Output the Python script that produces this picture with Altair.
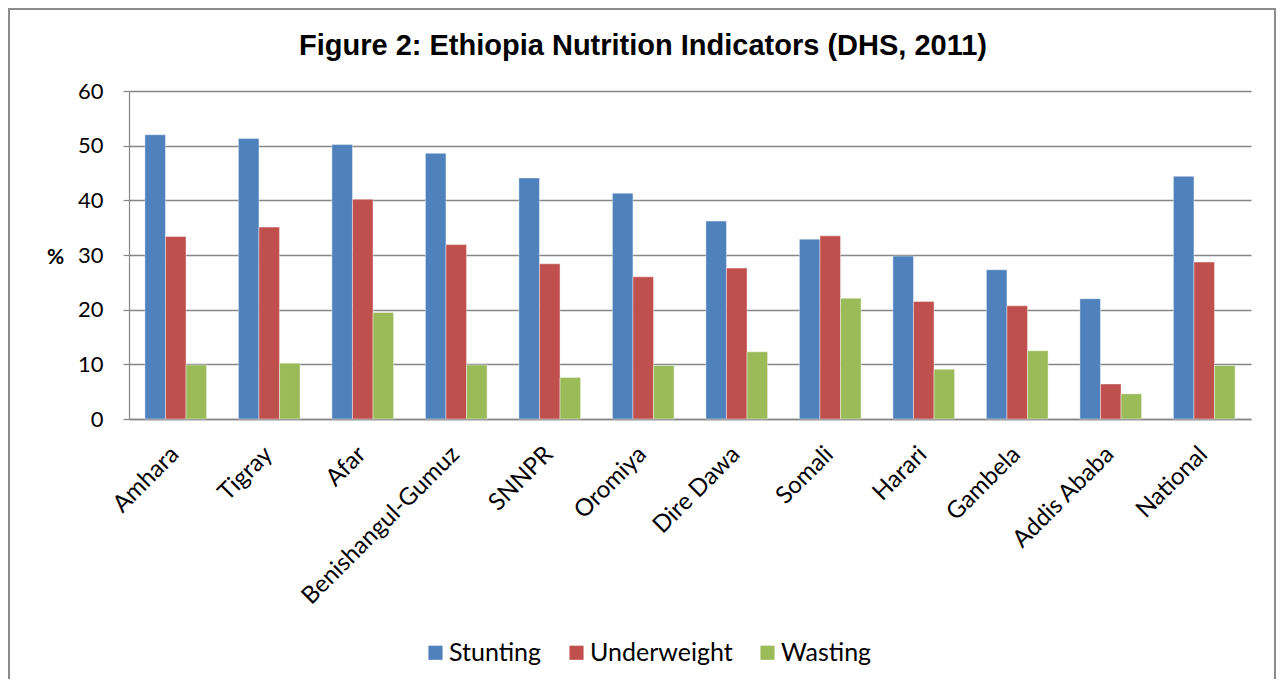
import altair as alt
import pandas as pd

regions = ["Amhara", "Tigray", "Afar", "Benishangul-Gumuz", "SNNPR", "Oromiya",
           "Dire Dawa", "Somali", "Harari", "Gambela", "Addis Ababa", "National"]
stunting = [52.0, 51.3, 50.2, 48.6, 44.1, 41.3, 36.2, 32.9, 29.8, 27.3, 22.0, 44.4]
underweight = [33.4, 35.1, 40.2, 31.9, 28.4, 26.0, 27.6, 33.5, 21.5, 20.7, 6.4, 28.7]
wasting = [9.9, 10.2, 19.5, 9.9, 7.6, 9.8, 12.3, 22.1, 9.1, 12.5, 4.6, 9.8]
series = ["Stunting", "Underweight", "Wasting"]
colors = ["#4F81BD", "#C0504D", "#9BBB59"]
y_ticks = [0, 10, 20, 30, 40, 50, 60]

rows = []
for i, r in enumerate(regions):
    for s, vals in zip(series, [stunting, underweight, wasting]):
        rows.append({"Region": r, "Indicator": s, "Value": vals[i]})
df = pd.DataFrame(rows)

FONT = "Lato"
GRID = "#868686"

bars = alt.Chart(df).mark_bar(stroke="white", strokeWidth=0.6, strokeOpacity=0.7).encode(
    x=alt.X("Region:N", sort=regions,
            scale=alt.Scale(paddingInner=0.34, paddingOuter=0.17),
            axis=alt.Axis(title=None, labelAngle=-45, labelAlign="right",
                          labelBaseline="top", labelFontSize=24, labelFont=FONT,
                          labelColor="black", labelPadding=23, labelLimit=0, ticks=False,
                          labelOffset=-9,
                          domainColor=GRID, domainWidth=1.5, grid=False)),
    xOffset=alt.XOffset("Indicator:N", sort=series),
    y=alt.Y("Value:Q", scale=alt.Scale(domain=[0, 60], nice=False),
            axis=alt.Axis(values=y_ticks, title="%", titleAngle=0, titleFont=FONT,
                          titleFontSize=21, titleFontWeight="bold", titleColor="black",
                          titleX=-74, titleY=166, titleAlign="center", titleBaseline="middle",
                          labelFontSize=22, labelFont=FONT, labelColor="black",
                          labelPadding=20, tickSize=6, tickColor=GRID, tickWidth=1.2,
                          domainColor=GRID, domainWidth=1.2,
                          gridColor=GRID, gridWidth=1.5)),
    color=alt.Color("Indicator:N", sort=series,
                    scale=alt.Scale(domain=series, range=colors),
                    legend=alt.Legend(title=None, orient="none", direction="horizontal",
                                      legendX=294, legendY=549, symbolType="square",
                                      symbolSize=200, symbolStrokeWidth=0,
                                      labelFontSize=25, labelFont=FONT, labelColor="black",
                                      columnPadding=22, labelOffset=1)),
)

frame = alt.Chart(pd.DataFrame({"a": [0]})).mark_rect(
    filled=False, stroke="#8c8c8c", strokeWidth=2
).encode(
    x=alt.value(-120), x2=alt.value(1146),
    y=alt.value(-82), y2=alt.value(700),
)

chart = alt.layer(frame, bars).properties(
    width=1122, height=328,
    autosize=alt.AutoSizeParams(type="none"),
    padding={"left": 121, "top": 83, "right": 26, "bottom": 260},
    title=alt.TitleParams("Figure 2: Ethiopia Nutrition Indicators (DHS, 2011)",
                          font="Liberation Sans", fontSize=29, fontWeight="bold",
                          color="black", anchor="middle", frame="group", dx=-47,
                          offset=0, dy=53),
).configure_view(stroke=None)

chart.save("out.html", embed_options={"renderer": "svg", "actions": False})
